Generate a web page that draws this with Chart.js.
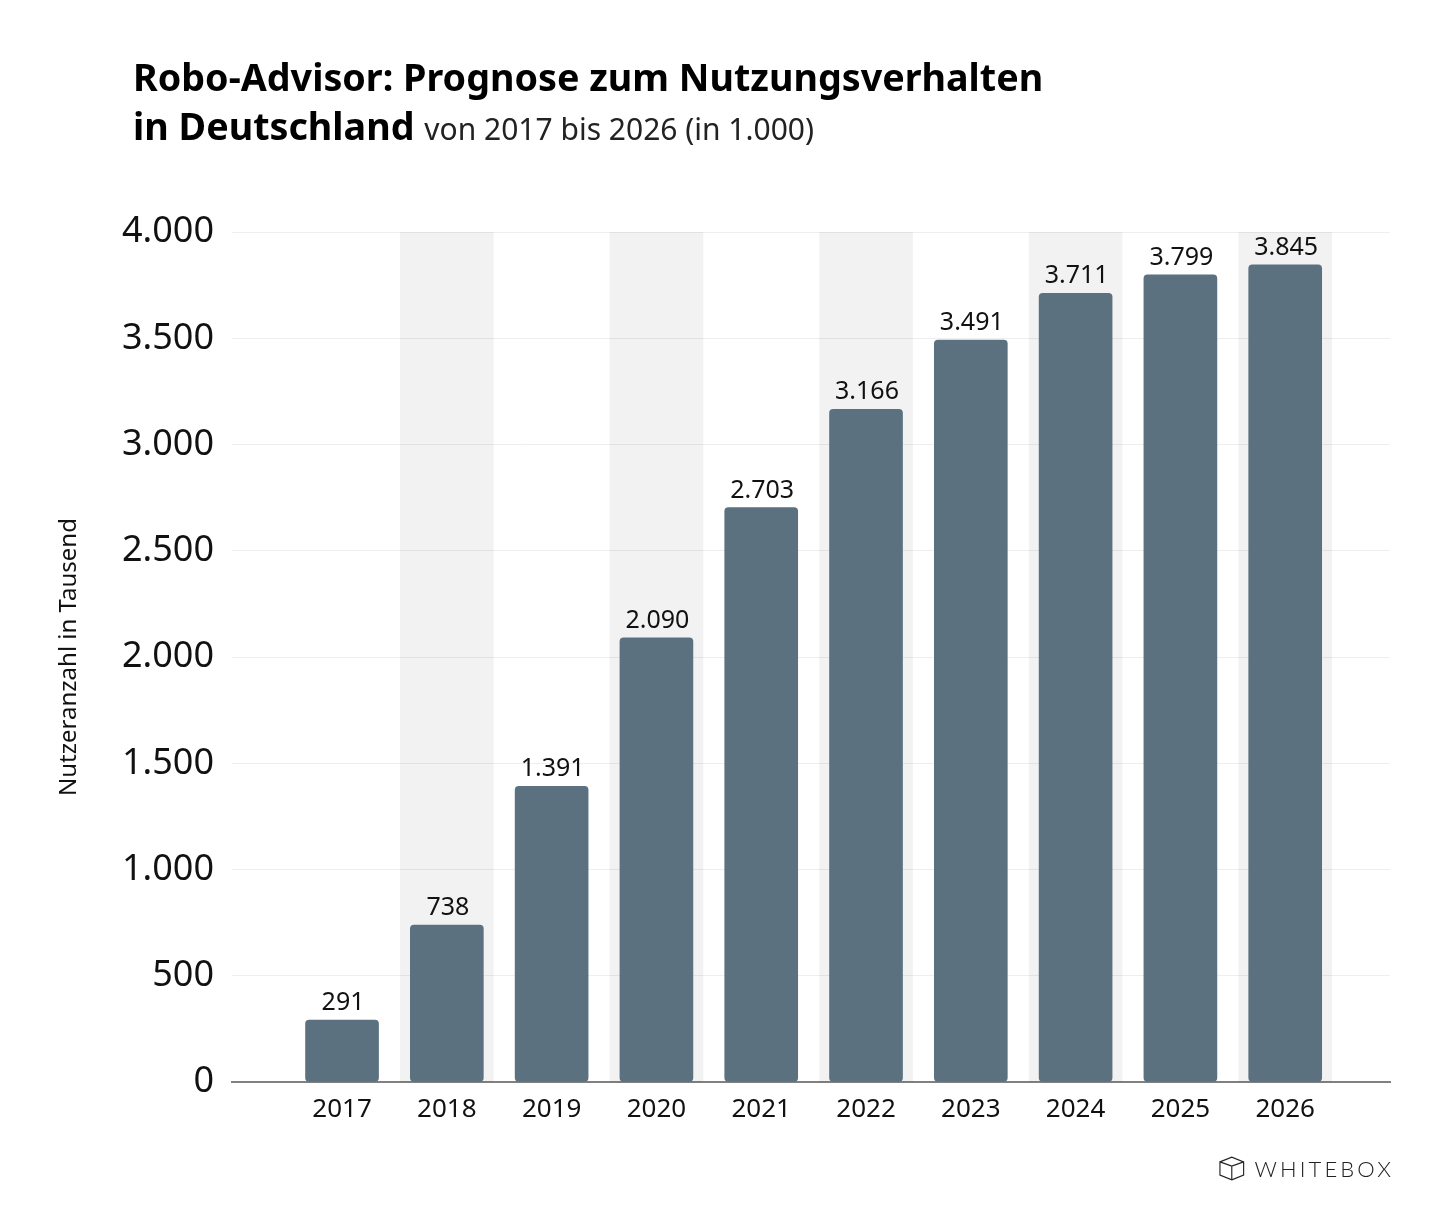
<!DOCTYPE html>
<html lang="de">
<head>
<meta charset="utf-8">
<title>Robo-Advisor: Prognose zum Nutzungsverhalten in Deutschland</title>
<script src="https://cdn.jsdelivr.net/npm/chart.js@4"></script>
<style>
    html, body { margin: 0; padding: 0; background: #fff; }
    #page { position: relative; width: 1448px; height: 1225px; overflow: hidden; font-family: "Noto Sans", sans-serif; color: #000; }
    #chart { position: absolute; left: 0; top: 0; }
    h1 { position: absolute; left: 133px; top: 52px; margin: 0; font-size: 37.7px; line-height: 49px; font-weight: 700; white-space: nowrap; }
    h1 span { font-size: 30px; font-weight: 400; color: #222; }
    #logo { position: absolute; left: 1219px; top: 1154px; width: 175px; height: 28px; display: flex; align-items: center; }
    #logo span { font-family: "Lato", sans-serif; font-weight: 300; font-size: 22px; letter-spacing: 3.1px; margin-left: 10px; color: #222; }
</style>
</head>
<body>
<div id="page">
    <canvas id="chart" width="1448" height="1225"></canvas>
    <h1>Robo-Advisor: Prognose zum Nutzungsverhalten<br>in Deutschland <span>von 2017 bis 2026 (in 1.000)</span></h1>
    <div id="logo">
        <svg width="27" height="27" viewBox="0 0 27 27" fill="none" stroke="#222" stroke-width="1.2">
            <path d="M1 6.5 L13.5 1.5 L26 6.5 L26 20.5 L13.5 25.5 L1 20.5 Z"/>
            <path d="M1 6.5 L13.5 11 L26 6.5 M13.5 11 L13.5 25.5"/>
        </svg>
        <span>WHITEBOX</span>
    </div>
</div>

<script>
    // Daten
    const years = [2017, 2018, 2019, 2020, 2021, 2022, 2023, 2024, 2025, 2026];
    const users = [291, 738, 1391, 2090, 2703, 3166, 3491, 3711, 3799, 3845];
    const bandYears = [2018, 2020, 2022, 2024, 2026];
    const bandValues = [4000, 4000, 4000, 4000, 4000];
    const yTicks = [0, 500, 1000, 1500, 2000, 2500, 3000, 3500, 4000];
    const axisTitle = 'Nutzeranzahl in Tausend';

    const formatDe = (value) => value.toLocaleString('de-DE');

    // Wert ueber jedem Balken schreiben
    const barLabels = {
        id: 'barLabels',
        afterDatasetsDraw(chart) {
            const ctx = chart.ctx;
            ctx.save();
            ctx.font = '25px "Noto Sans"';
            ctx.fillStyle = '#111';
            ctx.textAlign = 'center';
            ctx.textBaseline = 'alphabetic';
            chart.getDatasetMeta(1).data.forEach((bar, i) => {
                ctx.fillText(formatDe(users[i]), bar.x + 1, bar.y - 10);
            });
            ctx.restore();
        }
    };

    new Chart(document.getElementById('chart'), {
        type: 'bar',
        data: {
            datasets: [
                {
                    label: 'Streifen',
                    data: bandYears.map((year, i) => ({ x: year, y: bandValues[i] })),
                    backgroundColor: 'rgba(0, 0, 0, 0.05)',
                    barThickness: 93,
                    order: 2
                },
                {
                    label: axisTitle,
                    data: years.map((year, i) => ({ x: year, y: users[i] })),
                    backgroundColor: '#5c7180',
                    barThickness: 73,
                    borderRadius: 4,
                    borderSkipped: false,
                    order: 1
                }
            ]
        },
        options: {
            responsive: false,
            animation: false,
            devicePixelRatio: 1,
            layout: { padding: { left: 55, right: 58, top: 232, bottom: 93 } },
            plugins: {
                legend: { display: false },
                tooltip: { enabled: false }
            },
            datasets: { bar: { grouped: false } },
            scales: {
                x: {
                    type: 'linear',
                    offset: false,
                    min: 2015.95,
                    max: 2027,
                    afterBuildTicks(scale) {
                        scale.ticks = years.map((year) => ({ value: year }));
                    },
                    afterFit(scale) { scale.height = 50; },
                    grid: { display: false },
                    border: { color: '#808080', width: 2 },
                    ticks: {
                        autoSkip: false,
                        maxRotation: 0,
                        padding: 4,
                        color: '#111',
                        font: { family: 'Noto Sans', size: 26 },
                        callback: (value) => String(value)
                    }
                },
                y: {
                    min: 0,
                    max: 4000,
                    afterBuildTicks(scale) {
                        scale.ticks = yTicks.map((value) => ({ value }));
                    },
                    afterFit(scale) { scale.width = 177; },
                    grid: { color: '#eeeeee', lineWidth: 1, drawTicks: false },
                    border: { display: false },
                    title: {
                        display: true,
                        text: axisTitle,
                        color: '#111',
                        font: { family: 'Noto Sans', size: 24 },
                        padding: 0
                    },
                    ticks: {
                        padding: 18,
                        color: '#111',
                        font: { family: 'Noto Sans', size: 36 },
                        callback: (value) => formatDe(value)
                    }
                }
            }
        },
        plugins: [barLabels]
    });
</script>
</body>
</html>
